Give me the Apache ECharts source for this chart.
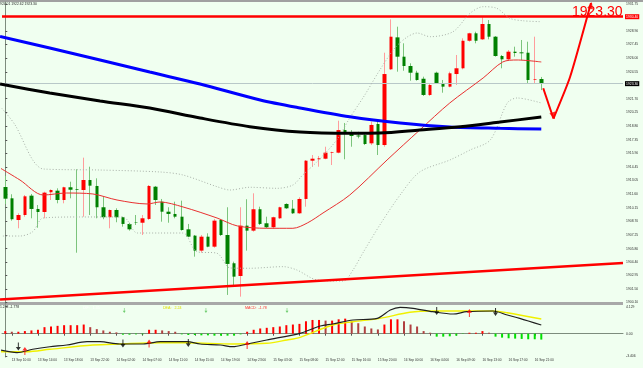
<!DOCTYPE html>
<html><head><meta charset="utf-8">
<script src="https://cdn.jsdelivr.net/npm/echarts@6/dist/echarts.min.js"></script>
<style>html,body{margin:0;padding:0;background:#F0FFF0}#c{width:643px;height:368px}</style>
</head><body><div id="c"></div>
<script>
// ---- time axis labels (every 4th H1 candle, starting at candle 1) ----
const tickLabels = ['13 Sep 10:00','13 Sep 14:00','13 Sep 18:00','13 Sep 22:00','14 Sep 02:00','14 Sep 07:00','14 Sep 11:00','14 Sep 15:00','14 Sep 19:00','14 Sep 23:00','15 Sep 03:00','15 Sep 08:00','15 Sep 12:00','15 Sep 16:00','15 Sep 20:00','16 Sep 00:00','16 Sep 04:00','16 Sep 09:00','16 Sep 13:00','16 Sep 17:00','16 Sep 21:00'];
// ---- price axis tick labels ----
const priceTicks = [1900.10,1901.50,1902.95,1904.40,1905.80,1907.25,1908.70,1910.15,1911.60,1913.05,1914.45,1915.90,1917.35,1918.80,1920.25,1921.70,1924.55,1926.00,1927.45,1928.90,1931.75];
const macdTicks = [4.129, 0, -3.406];
// ---- candles ----
const open  = [1912.34,1911.14,1908.84,1909.37,1911.42,1910.01,1909.69,1911.78,1911.95,1910.96,1912.31,1912.10,1912.02,1913.08,1912.45,1910.19,1909.13,1909.90,1909.13,1908.42,1908.60,1908.55,1908.95,1912.37,1910.78,1909.72,1909.48,1909.19,1907.85,1907.18,1905.59,1907.07,1906.01,1908.84,1907.25,1904.25,1902.90,1908.24,1907.71,1909.98,1908.49,1908.07,1909.02,1910.54,1910.04,1909.55,1911.07,1915.13,1915.28,1915.34,1915.98,1915.98,1918.38,1917.96,1917.80,1917.85,1916.97,1919.02,1916.79,1924.82,1928.21,1926.16,1925.17,1924.46,1923.82,1922.10,1924.46,1923.34,1922.98,1924.32,1924.93,1927.85,1928.64,1928.00,1929.63,1928.28,1926.23,1925.88,1926.69,1926.62,1926.58,1923.69,1923.79];
const high  = [1913.51,1911.57,1909.55,1911.49,1911.60,1910.43,1911.84,1912.10,1912.20,1912.37,1912.90,1914.22,1915.45,1914.49,1913.26,1911.31,1909.95,1910.08,1909.19,1908.55,1909.37,1909.37,1912.55,1912.45,1911.07,1910.19,1910.78,1910.89,1908.42,1907.25,1907.25,1907.43,1908.95,1908.92,1910.19,1904.42,1910.19,1911.04,1911.67,1910.25,1909.19,1909.19,1910.25,1910.61,1910.96,1911.25,1915.20,1915.73,1915.63,1916.61,1916.08,1919.37,1919.13,1918.38,1918.20,1918.04,1919.27,1919.27,1926.58,1930.12,1929.34,1927.58,1925.46,1924.67,1924.04,1923.34,1924.57,1923.69,1924.57,1926.34,1928.11,1928.70,1928.81,1930.34,1930.05,1928.35,1926.34,1926.87,1927.22,1927.93,1927.75,1928.28,1924.01];
const low   = [1910.54,1908.77,1907.96,1909.19,1909.02,1908.02,1909.02,1910.96,1910.61,1910.61,1911.14,1905.37,1909.19,1909.37,1909.02,1908.92,1907.96,1908.60,1908.13,1907.71,1908.31,1907.25,1908.84,1910.43,1908.66,1908.55,1909.02,1907.71,1907.01,1904.95,1905.37,1905.95,1905.90,1907.14,1900.89,1901.77,1900.71,1905.59,1907.60,1908.31,1907.96,1907.89,1908.95,1910.01,1909.48,1909.48,1910.25,1914.49,1914.49,1915.28,1914.67,1915.91,1915.28,1916.61,1917.50,1916.79,1916.79,1915.73,1916.61,1924.75,1924.57,1924.67,1923.61,1923.61,1921.99,1921.99,1923.26,1922.34,1922.91,1923.16,1924.82,1927.75,1927.58,1927.93,1928.00,1926.16,1924.93,1925.81,1926.16,1925.81,1923.34,1923.34,1922.62];
const close = [1911.10,1908.92,1909.37,1911.35,1910.01,1909.69,1911.74,1912.02,1910.96,1912.31,1912.05,1912.02,1913.08,1912.48,1910.19,1909.13,1909.90,1909.13,1908.42,1907.85,1908.55,1909.02,1912.45,1910.96,1909.72,1909.48,1909.19,1907.78,1907.07,1905.59,1907.07,1906.01,1908.77,1907.25,1904.18,1902.83,1908.24,1907.71,1909.98,1908.42,1908.07,1909.13,1910.19,1910.08,1909.55,1911.07,1915.13,1915.34,1915.38,1915.98,1916.05,1918.38,1917.96,1917.75,1917.70,1916.90,1918.92,1916.79,1924.32,1928.28,1926.16,1925.17,1924.46,1923.69,1922.10,1923.16,1923.34,1922.98,1924.40,1924.93,1927.85,1928.64,1927.85,1929.63,1928.28,1926.23,1925.88,1926.69,1926.55,1926.52,1923.69,1923.76,1923.30];
// ---- indicator lines, sampled [candle index, price] ----
const maBlue  = [[-0.8,1928.30],[6.8,1927.08],[14.5,1925.81],[22.1,1924.53],[29.8,1923.26],[39.0,1921.57],[45.1,1920.72],[52.7,1919.79],[60.4,1919.13],[68.0,1918.70],[75.7,1918.56],[82,1918.49]];
const maBlack = [[-0.8,1923.26],[6.8,1922.31],[14.5,1921.46],[22.1,1920.72],[29.8,1919.66],[37.4,1918.74],[45.1,1918.17],[52.7,1918.04],[57.3,1918.07],[63.4,1918.39],[69.6,1918.74],[75.7,1919.23],[82,1919.76]];
const maRed   = [[-0.8,1914.36],[2.25,1913.08],[5.8,1911.49],[9.4,1911.70],[13.4,1911.60],[17.1,1910.96],[21.7,1910.54],[23.7,1910.75],[27.2,1910.22],[32.4,1909.05],[35.5,1908.21],[40.0,1907.96],[44.0,1907.96],[46.2,1908.52],[48.6,1909.58],[52.7,1911.49],[58.4,1915.20],[63.4,1918.38],[68.0,1921.25],[73.1,1923.90],[76.1,1925.60],[78.3,1925.81],[82,1925.60]];
const bbUpper = [[-0.8,1920.90],[1.5,1918.92],[4.2,1915.20],[5.8,1914.25],[14.5,1914.14],[23.7,1913.93],[27.2,1913.61],[32.4,1912.37],[34.4,1912.02],[37.4,1912.31],[41.6,1912.20],[44.0,1912.55],[45.5,1913.61],[47.7,1915.02],[50.7,1917.33],[52.7,1919.66],[55.0,1922.10],[57.3,1924.75],[59.6,1927.08],[61.5,1928.25],[63.0,1928.67],[65.0,1928.28],[68.5,1928.81],[71.1,1930.76],[73.1,1931.46],[75.2,1931.29],[77.2,1930.23],[79.2,1929.97],[82,1929.87]];
const bbLower = [[-0.8,1907.14],[2.25,1907.14],[4.2,1907.60],[5.8,1909.05],[11.4,1909.16],[18.0,1909.16],[20.2,1907.46],[23.7,1907.46],[27.2,1907.46],[29.3,1905.48],[32.4,1905.31],[34.4,1903.75],[37.4,1903.72],[42.5,1903.89],[44.6,1903.54],[47.7,1902.48],[51.7,1902.37],[53.2,1903.54],[54.7,1905.34],[57.3,1908.31],[60.4,1911.49],[63.4,1913.93],[68.0,1915.20],[71.1,1916.26],[74.2,1917.33],[76.8,1921.25],[78.3,1921.78],[82,1921.25]];
const trendLine = [[-0.8,1900.42],[94.5,1904.27]];
const resistance = 1930.40;
const lastPrice = 1923.30;
const arrowDown = [[82.3,1922.81],[83.86,1919.60]];
const arrowUp = [[83.86,1919.60],[86.4,1924.0],[89.6,1931.85]];
// ---- MACD panel ----
const dif = [[-0.8,-2.49],[1.8,-2.90],[4.2,-2.38],[6.8,-1.99],[9.4,-1.73],[12.5,-1.22],[14.5,-1.22],[17.5,-1.57],[21.1,-1.57],[23.7,-1.22],[27.8,-1.22],[29.8,-1.57],[32.9,-1.73],[34.8,-1.99],[37.0,-1.57],[40.0,-0.96],[45.1,0.06],[48.2,1.18],[50.1,1.48],[53.2,2.09],[56.9,2.35],[58.9,3.62],[60.4,4.03],[62.4,3.88],[65.4,3.36],[68.5,3.01],[70.6,3.36],[74.6,3.47],[76.8,2.86],[78.7,2.35],[82,1.33]];
const dea = [[-0.8,-2.75],[3.3,-2.75],[6.8,-2.38],[13.4,-1.73],[17.5,-1.57],[23.7,-1.38],[27.8,-1.38],[34.8,-1.57],[40.0,-1.47],[43.1,-0.96],[45.1,-0.55],[50.1,1.33],[53.2,1.83],[57.3,2.35],[61.9,3.27],[65.4,3.47],[70.6,3.47],[74.6,3.47],[76.8,3.21],[82,2.25]];
const hist = [0.4,0.3,0.3,0.4,0.5,0.6,1.0,1.1,1.2,1.3,1.3,1.3,1.4,1.0,0.7,0.5,0.3,0.2,-0.15,-0.15,-0.1,-0.1,0.6,0.6,0.5,0.4,0.3,-0.1,-0.2,-0.2,-0.25,-0.25,-0.3,-0.3,-0.3,-0.3,-0.1,0.3,0.6,0.8,0.9,1.0,1.1,1.3,1.4,1.5,1.9,2.1,2.1,2.0,2.0,2.2,2.3,1.9,1.6,1.1,0.8,0.65,1.4,2.2,2.2,1.9,1.4,1.1,0.4,0.15,-0.45,-0.45,-0.4,-0.3,-0.05,0.15,0.15,0.4,0.15,-0.45,-0.6,-0.7,-0.75,-0.8,-0.85,-0.85,-0.9];
const crossDown = [[2,-1.96],[18,-1.50],[28,-1.42],[66,3.47],[75,3.32]];
const crossUp = [[3,-2.64],[22,-1.50],[37,-1.73],[71,3.16]];
const signalMarks = [[18.2,3.55],[30.7,3.55],[43.1,3.55]];

const SLOTS = 95;
const categories = [];
for (let i = 0; i < SLOTS; i++) {
  const k = (i - 1) / 4;
  categories.push(i >= 1 && (i - 1) % 4 === 0 && k < tickLabels.length ? tickLabels[k] : '');
}
const wickData = open.map((o, i) => [o, close[i], low[i], high[i]]);
const bodyData = open.map((o, i) => [o, close[i], Math.min(o, close[i]), Math.max(o, close[i])]);
const histData = hist.map((v, i) => {
  let c;
  if (v < 0) c = '#00e000';
  else if (i > 0 && v < hist[i - 1]) c = '#b04040';
  else c = '#ff0000';
  return { value: v, itemStyle: { color: c } };
});

const FONT = 'Liberation Sans';
const chart = echarts.init(document.getElementById('c'), null, { renderer: 'canvas' });
const lineS = (name, data, color, width, type, z) => ({
  name, type: 'line', xAxisIndex: 1, yAxisIndex: 0, data, symbol: 'none', smooth: 0.3,
  lineStyle: { color, width, type }, z: z || 3, silent: true, clip: true
});
chart.setOption({
  animation: false,
  backgroundColor: '#F0FFF0',
  textStyle: { fontFamily: FONT },
  grid: [
    { left: 2, right: 20, top: 2, height: 302 },
    { left: 2, right: 20, top: 305, height: 52 }
  ],
  xAxis: [
    { type: 'category', gridIndex: 0, data: categories, boundaryGap: true, axisLine: { show: false }, axisTick: { show: false }, axisLabel: { show: false } },
    { type: 'value', gridIndex: 0, min: -0.5, max: SLOTS - 0.5, show: false },
    { type: 'category', gridIndex: 1, data: categories, boundaryGap: true,
      axisLine: { show: true, lineStyle: { color: '#7d8c7d', width: 1 } },
      axisTick: { show: true, alignWithLabel: true, interval: (i, v) => v !== '', length: 2, lineStyle: { color: '#555' } },
      axisLabel: { show: true, interval: (i, v) => v !== '', fontSize: 3.2, color: '#333', align: 'left', margin: 2, fontFamily: FONT } },
    { type: 'value', gridIndex: 1, min: -0.5, max: SLOTS - 0.5, show: false }
  ],
  yAxis: [
    { type: 'value', gridIndex: 0, position: 'right', min: 1899.93, max: 1931.96, splitLine: { show: false },
      axisLine: { show: true, lineStyle: { color: '#7d8c7d', width: 1 } },
      axisTick: { show: true, length: 2, customValues: priceTicks, lineStyle: { color: '#555' } },
      axisLabel: { show: true, customValues: priceTicks, fontSize: 3.4, color: '#333', margin: 3, formatter: v => v.toFixed(2), fontFamily: FONT } },
    { type: 'value', gridIndex: 1, position: 'right', min: -3.56, max: 4.385, splitLine: { show: false },
      axisLine: { show: true, lineStyle: { color: '#7d8c7d', width: 1 } },
      axisTick: { show: true, length: 2, customValues: macdTicks, lineStyle: { color: '#555' } },
      axisLabel: { show: true, customValues: macdTicks, fontSize: 3.4, color: '#333', margin: 3, formatter: v => v === 0 ? '0.00' : v.toFixed(3), fontFamily: FONT } }
  ],
  series: [
    { name: 'levels', type: 'line', xAxisIndex: 1, yAxisIndex: 0, data: [], z: 2,
      markLine: { silent: true, symbol: 'none', animation: false, data: [
        { yAxis: lastPrice, lineStyle: { color: '#b8c8c8', width: 1, type: 'solid' },
          label: { show: true, position: 'end', formatter: lastPrice.toFixed(2), color: '#fff', backgroundColor: '#000', fontSize: 3.4, padding: [1, 1], distance: 2 } },
        { yAxis: resistance, lineStyle: { color: '#ff0000', width: 2.5, type: 'solid' },
          label: { show: true, position: 'end', formatter: resistance.toFixed(2), color: '#fff', backgroundColor: '#ff0000', fontSize: 3.4, padding: [1, 1], distance: 2 } }
      ] } },
    { name: 'wick', type: 'candlestick', xAxisIndex: 0, yAxisIndex: 0, data: wickData, barWidth: 1, z: 3,
      itemStyle: { color: '#ff9c9c', color0: '#7cc47c', borderColor: '#ff9c9c', borderColor0: '#7cc47c', borderWidth: 1 } },
    { name: 'body', type: 'candlestick', xAxisIndex: 0, yAxisIndex: 0, data: bodyData, barWidth: 4, z: 4,
      itemStyle: { color: '#ff0000', color0: '#008000', borderColor: '#ff0000', borderColor0: '#008000', borderWidth: 0 } },
    lineS('BB upper', bbUpper, '#a8b0a8', 1, [1, 2], 5),
    lineS('BB lower', bbLower, '#a8b0a8', 1, [1, 2], 5),
    lineS('MA red', maRed, '#e83030', 1, 'solid', 6),
    lineS('MA blue', maBlue, '#0000ff', 3, 'solid', 6),
    lineS('MA black', maBlack, '#000000', 3, 'solid', 7),
    Object.assign(lineS('trend', trendLine, '#ff0000', 2.5, 'solid', 6), { smooth: false }),
    Object.assign(lineS('arrow1', arrowDown, '#ff0000', 2, 'solid', 8), { smooth: false }),
    Object.assign(lineS('arrow2', arrowUp, '#ff0000', 2, 'solid', 8), { smooth: 0.2 }),
    { name: 'arrowheads', type: 'scatter', xAxisIndex: 1, yAxisIndex: 0, z: 9, silent: true,
      data: [
        { value: [83.86, 1919.9], symbol: 'triangle', symbolRotate: 200, symbolSize: [6, 7] },
        { value: [89.6, 1931.6], symbol: 'triangle', symbolRotate: -15, symbolSize: [6, 7] }
      ], itemStyle: { color: '#ff0000' } },
    // MACD
    { name: 'MACD', type: 'bar', xAxisIndex: 2, yAxisIndex: 1, data: histData, barWidth: 2, z: 3 },
    { name: 'DIF', type: 'line', xAxisIndex: 3, yAxisIndex: 1, data: dif, symbol: 'none', smooth: 0.3, lineStyle: { color: '#202020', width: 1.2 }, z: 5 },
    { name: 'DEA', type: 'line', xAxisIndex: 3, yAxisIndex: 1, data: dea, symbol: 'none', smooth: 0.3, lineStyle: { color: '#f0f000', width: 1.4 }, z: 4 },
    { name: 'cross down', type: 'scatter', xAxisIndex: 3, yAxisIndex: 1, data: crossDown, z: 6,
      symbol: 'path://M4,0 L6,0 L6,6 L10,6 L5,11 L0,6 L4,6 Z', symbolSize: [5, 8], itemStyle: { color: '#000' } },
    { name: 'cross up', type: 'scatter', xAxisIndex: 3, yAxisIndex: 1, data: crossUp, z: 6,
      symbol: 'path://M4,11 L6,11 L6,5 L10,5 L5,0 L0,5 L4,5 Z', symbolSize: [5, 8], itemStyle: { color: '#ff0000' } },
    { name: 'signal', type: 'scatter', xAxisIndex: 3, yAxisIndex: 1, data: signalMarks, z: 6,
      symbol: 'path://M4,0 L6,0 L6,6 L10,6 L5,11 L0,6 L4,6 Z', symbolSize: [3, 5], itemStyle: { color: '#50c050' } }
  ],
  graphic: [
    { type: 'rect', left: 0, top: 0, shape: { width: 643, height: 2 }, style: { fill: '#a0a0a0' }, silent: true },
    { type: 'rect', left: 0, top: 302, shape: { width: 623, height: 3 }, style: { fill: '#a8a8a8' }, silent: true },
    { type: 'text', left: 0, top: 3, style: { text: '924.01 1922.62 1923.30', fontSize: 3.4, fill: '#222', fontFamily: FONT }, silent: true },
    { type: 'text', left: 0, top: 306, style: { text: '1.243 -1.778', fontSize: 3.4, fill: '#222', fontFamily: FONT }, silent: true },
    { type: 'text', left: 83, top: 306, style: { text: 'DIF:   1.35', fontSize: 3.6, fill: '#ffffff', fontFamily: FONT }, silent: true },
    { type: 'text', left: 163, top: 306, style: { text: 'DEA:   2.24', fontSize: 3.6, fill: '#e0e000', fontFamily: FONT }, silent: true },
    { type: 'text', left: 245, top: 306, style: { text: 'MACD:  -1.78', fontSize: 3.6, fill: '#ff3030', fontFamily: FONT }, silent: true },
    { type: 'text', left: 572, top: 5, z: 100, style: { text: '1923.30', fontSize: 14, fill: '#ff0000', fontFamily: FONT }, silent: true }
  ]
});
</script></body></html>
